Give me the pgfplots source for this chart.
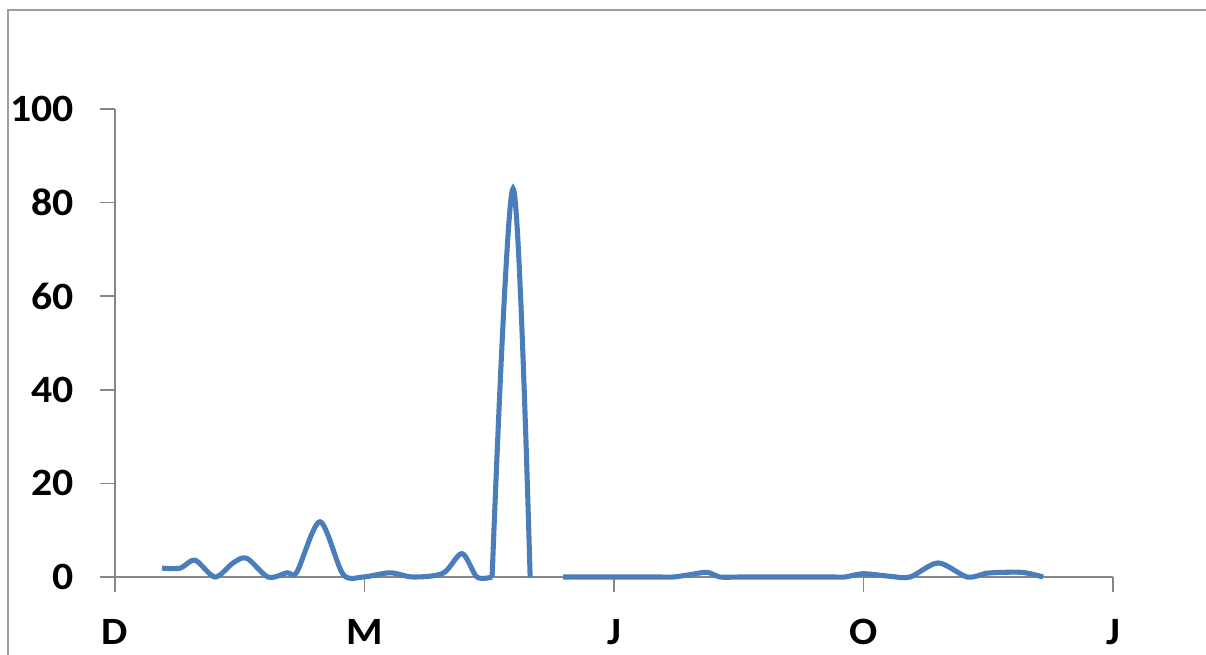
\documentclass[border=0pt]{standalone}
\usepackage{pgfplots}
\pgfplotsset{compat=1.18}
\usepackage{fontspec}
\setmainfont{Carlito}
\definecolor{serblue}{HTML}{4A7EBB}
\definecolor{axgray}{HTML}{868686}
\begin{document}
\begin{tikzpicture}[x=1pt,y=1pt]
\begin{axis}[
  scale only axis,
  width=748.5pt, height=351pt,
  xmin=0, xmax=52, ymin=0, ymax=100,
  axis x line=bottom, axis y line=left,
  axis line style={axgray, line width=1.1pt, -},
  xtick={0,13,26,39,52},
  xticklabels={D,M,J,O,J},
  ytick={0,20,40,60,80,100},
  tick align=outside,
  tick style={axgray, line width=1.1pt},
  major tick length=11pt,
  tick label style={font=\fontsize{29}{30}\selectfont\bfseries},
  /pgf/number format/assume math mode=true,
  yticklabel style={anchor=east, inner sep=0pt, xshift=-19.5pt, xscale=1.08},
  xticklabel style={anchor=north, inner sep=0pt, yshift=-20.5pt, xscale=1.08},
  clip=false,
]
\addplot[serblue, line width=3.8pt, smooth, tension=0.5] coordinates {
(2.45,1.9) (3.4,1.9) (4.17,3.6) (5.21,0) (6.15,3) (6.87,4) (7.97,0)
(8.96,0.9) (9.48,1.1) (10.68,11.8) (11.88,0.6) (12.92,0) (14.33,0.9) (15.53,0)
(17.09,0.8) (18.08,5) (18.86,0) (19.65,0)
};
\addplot[serblue, line width=3.8pt, smooth, tension=0.6] coordinates {
(19.65,0) (20.74,83) (21.63,0)
};
\addplot[serblue, line width=3.8pt, smooth, tension=0.5] coordinates {
(23.35,0) (24.4,0) (25.4,0) (26.4,0) (27.4,0) (28.4,0) (29.1,0)
(29.96,0.5) (30.85,1) (31.53,0) (32.5,0) (33.5,0) (34.5,0) (35.5,0)
(36.5,0) (37.5,0) (38.04,0) (38.98,0.7) (40.39,0.15) (41.43,0)
(42.89,3) (44.40,0) (45.4,0.8) (46.3,1) (47.2,1) (47.8,0.6) (48.36,0)
};
\end{axis}
\draw[axgray!80, line width=1.1pt] (-80.25pt,-60pt) -- (-80.25pt,425.25pt) -- (820pt,425.25pt);
\pgfresetboundingbox
\useasboundingbox (-86.25pt,-57.75pt) rectangle (818.25pt,432.75pt);
\end{tikzpicture}
\end{document}
